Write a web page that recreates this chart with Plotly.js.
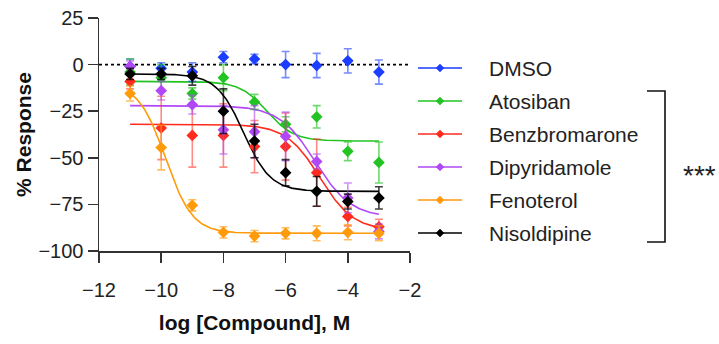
<!DOCTYPE html>
<html>
<head>
<meta charset="utf-8">
<script src="https://cdn.plot.ly/plotly-3.0.1.min.js"></script>
<style>
html,body{margin:0;padding:0;background:#fff;}
#chart{width:719px;height:344px;}
</style>
</head>
<body>
<div id="chart"></div>
<script>
// x values: log [Compound], M
const logConc = [-11, -10, -9, -8, -7, -6, -5, -4, -3];

const seriesNames = ['DMSO', 'Atosiban', 'Benzbromarone', 'Dipyridamole', 'Fenoterol', 'Nisoldipine'];

// % Response means
const dmso          = [-1, -2, -4, 4, 3, 0, -0.5, 2, -4];
const atosiban      = [-4, -7, -15.5, -7, -20, -32, -28, -46.5, -52.5];
const benzbromarone = [-9, -34, -38, -38, -44, -44, -58, -81.5, -87];
const dipyridamole  = [-1, -14, -21.5, -35, -36, -38.5, -52, -71.5, -89.5];
const fenoterol     = [-15.5, -44.5, -75.5, -90, -92, -90.5, -90.5, -90, -90.5];
const nisoldipine   = [-5, -5, -6, -25, -41, -58, -68, -73.5, -71.5];

// error bars (SEM)
const dmsoErr          = [4, 3, 5, 3, 2.5, 7, 6.5, 6.5, 6.5];
const atosibanErr      = [7, 7, 3, 7, 4, 4, 6, 5, 11];
const benzbromaroneErr = [4, 17, 17, 17, 14, 18, 18, 5, 4];
const dipyridamoleErr  = [3, 5, 5, 13, 14, 13, 4, 8, 4];
const fenoterolErr     = [4, 12, 3, 3, 3, 3, 4, 4, 4];
const nisoldipineErr   = [3, 3, 5, 12, 9, 7, 8, 4, 6];

// four-parameter logistic fit parameters
// (order: Atosiban, Benzbromarone, Dipyridamole, Fenoterol, Nisoldipine)
const fitTop      = [-9, -32, -22, -10, -5];
const fitBottom   = [-41, -89, -82, -90.5, -68];
const fitLogEC50  = [-6.6, -4.9, -5.05, -9.86, -7.35];
const fitHill     = [1, 0.8, 0.75, 1, 1];
const fitRange    = [-11, -3];

const colors = ['#1a3dff', '#22c322', '#ff2b1c', '#b148f5', '#ff9a0a', '#000000'];
const errColors = ['rgba(26,61,255,0.6)', 'rgba(34,195,34,0.65)', 'rgba(255,43,28,0.55)',
                   'rgba(177,72,245,0.6)', 'rgba(255,154,10,0.65)', 'rgba(0,0,0,0.75)'];

const means = [dmso, atosiban, benzbromarone, dipyridamole, fenoterol, nisoldipine];
const errs = [dmsoErr, atosibanErr, benzbromaroneErr, dipyridamoleErr, fenoterolErr, nisoldipineErr];

const traces = [];
// fitted curves
for (let k = 0; k < fitTop.length; k++) {
  const xs = [], ys = [];
  const n = 200;
  for (let i = 0; i <= n; i++) {
    const x = fitRange[0] + (fitRange[1] - fitRange[0]) * i / n;
    xs.push(x);
    ys.push(fitBottom[k] + (fitTop[k] - fitBottom[k]) / (1 + Math.pow(10, (x - fitLogEC50[k]) * fitHill[k])));
  }
  traces.push({x: xs, y: ys, type: 'scatter', mode: 'lines', name: seriesNames[k + 1] + ' fit',
    line: {color: colors[k + 1], width: 1.6}, showlegend: false, hoverinfo: 'skip'});
}
// data points with error bars
for (let s = 0; s < seriesNames.length; s++) {
  traces.push({x: logConc, y: means[s], type: 'scatter', mode: 'markers', name: seriesNames[s],
    marker: {symbol: 'diamond', size: 9, color: colors[s]},
    error_y: {type: 'data', array: errs[s], visible: true, color: errColors[s], thickness: 1.6, width: 4},
    showlegend: false});
}

// plot area in pixels (for placing the hand-drawn key in paper coordinates)
const W = 719, H = 344, ML = 99, MR = 309, MT = 18, MB = 93;
const PW = W - ML - MR, PH = H - MT - MB;
const px = p => (p - ML) / PW;
const py = p => (H - MB - p) / PH;

const shapes = [
  {type: 'line', xref: 'x', yref: 'y', x0: -12, x1: -2, y0: 0, y1: 0,
    line: {color: '#000', width: 1.6, dash: 'dot'}, layer: 'below'}
];
const annotations = [];

// key: line + diamond + label for each series
const keyTop = 68, keyStep = 33, keyX0 = 418, keyX1 = 462, keyText = 487;
const dX = 4 / PW, dY = 4 / PH;
for (let s = 0; s < seriesNames.length; s++) {
  const yy = py(keyTop + s * keyStep);
  const xm = px((keyX0 + keyX1) / 2);
  shapes.push({type: 'line', xref: 'paper', yref: 'paper', x0: px(keyX0), x1: px(keyX1), y0: yy, y1: yy,
    line: {color: colors[s], width: 1.4}});
  shapes.push({type: 'path', xref: 'paper', yref: 'paper',
    path: `M${xm},${yy + dY} L${xm + dX},${yy} L${xm},${yy - dY} L${xm - dX},${yy} Z`,
    fillcolor: colors[s], line: {color: colors[s], width: 0.5}});
  annotations.push({xref: 'paper', yref: 'paper', x: px(keyText), y: yy, xanchor: 'left', yanchor: 'middle',
    text: seriesNames[s], showarrow: false,
    font: {family: 'Liberation Sans, Arial, sans-serif', size: 21, color: '#222'}});
}

// bracket and significance
const brX = 665, brL = 647, brTop = 91, brBot = 242;
shapes.push({type: 'path', xref: 'paper', yref: 'paper',
  path: `M${px(brL)},${py(brTop)} L${px(brX)},${py(brTop)} L${px(brX)},${py(brBot)} L${px(brL)},${py(brBot)}`,
  line: {color: '#111', width: 1.6}});
annotations.push({xref: 'paper', yref: 'paper', x: px(699), y: py(175), xanchor: 'center', yanchor: 'middle',
  text: '***', showarrow: false,
  font: {family: 'Liberation Sans, Arial, sans-serif', size: 28, color: '#222'}});

const axisFont = {family: 'Liberation Sans, Arial, sans-serif', size: 20, color: '#222'};
const titleFont = {family: 'Liberation Sans, Arial, sans-serif', size: 21, color: '#111', weight: 'bold'};

const layout = {
  width: W, height: H,
  margin: {l: ML, r: MR, t: MT, b: MB},
  paper_bgcolor: '#fff', plot_bgcolor: '#fff',
  showlegend: false,
  xaxis: {range: [-12, -2], tickvals: [-12, -10, -8, -6, -4, -2], showgrid: false, zeroline: false,
    showline: true, linecolor: '#333', linewidth: 1.5, ticks: 'outside', ticklen: 10, tickwidth: 1.5,
    tickcolor: '#333', tickfont: axisFont, ticklabelstandoff: 10,
    title: {text: 'log [Compound], M', font: titleFont, standoff: 16}},
  yaxis: {range: [-100, 25], tickvals: [-100, -75, -50, -25, 0, 25], showgrid: false, zeroline: false,
    showline: true, linecolor: '#333', linewidth: 1.5, ticks: 'outside', ticklen: 10, tickwidth: 1.5,
    tickcolor: '#333', tickfont: axisFont, ticklabelstandoff: 0,
    title: {text: '% Response', font: titleFont, standoff: 1}},
  shapes: shapes,
  annotations: annotations
};

Plotly.newPlot('chart', traces, layout, {displayModeBar: false, staticPlot: true});
</script>
</body>
</html>
